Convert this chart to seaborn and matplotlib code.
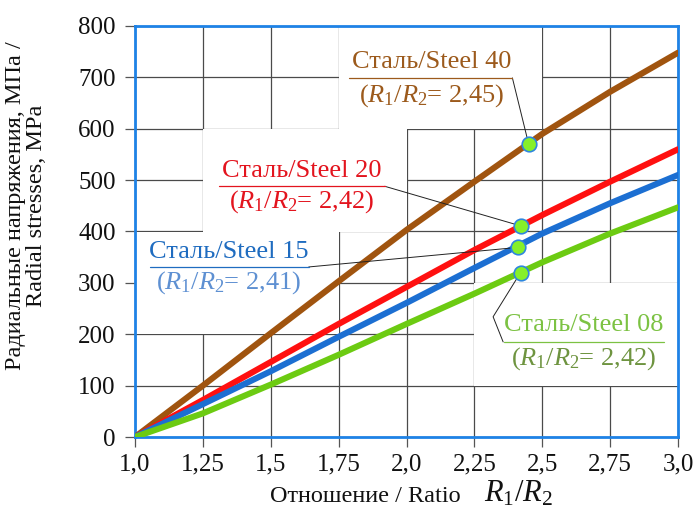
import numpy as np
import pandas as pd
import matplotlib
matplotlib.use("Agg")
import matplotlib.pyplot as plt
from matplotlib.patches import Rectangle
import seaborn as sns

# Ratio R1/R2 and radial stresses (MPa) for each steel grade
ratio = [1.0, 1.25, 1.5, 1.75, 2.0, 2.25, 2.5, 2.75, 3.0]
steel_40 = [0, 100, 202, 303, 403, 497, 590, 672, 748]
steel_20 = [0, 72, 146, 220, 292, 364, 432, 497, 560]
steel_15 = [0, 64, 128, 195, 261, 329, 396, 455, 510]
steel_08 = [0, 46, 102, 160, 220, 279, 340, 396, 447]

grades = ["Сталь/Steel 40", "Сталь/Steel 20", "Сталь/Steel 15", "Сталь/Steel 08"]
series = [steel_40, steel_20, steel_15, steel_08]
line_colors = ["#A0540F", "#FF1010", "#1C6FD2", "#6CCB12"]

# Marked points: ratio stated in each label and stress on the curve
mark_ratio = [2.45, 2.42, 2.41, 2.42]
mark_ratio_text = ["2,45", "2,42", "2,41", "2,42"]
mark_stress = [570, 411, 369, 320]

x_ticks = [1.0, 1.25, 1.5, 1.75, 2.0, 2.25, 2.5, 2.75, 3.0]
x_tick_labels = ["1,0", "1,25", "1,5", "1,75", "2,0", "2,25", "2,5", "2,75", "3,0"]
y_ticks = [0, 100, 200, 300, 400, 500, 600, 700, 800]

df = pd.DataFrame({
    "ratio": np.tile(ratio, len(grades)),
    "stress": np.concatenate(series),
    "grade": np.repeat(grades, len(ratio)),
})

sns.set_theme(style="white")
plt.rcParams["font.family"] = ["Liberation Serif", "DejaVu Serif"]
plt.rcParams["mathtext.fontset"] = "custom"
plt.rcParams["mathtext.rm"] = "Liberation Serif"
plt.rcParams["mathtext.it"] = "Liberation Serif:italic"

fig = plt.figure(figsize=(6.97, 5.13), dpi=100)
ax = fig.add_axes([135 / 697, 1 - 437 / 513, 543 / 697, 411 / 513])

sns.lineplot(data=df, x="ratio", y="stress", hue="grade", hue_order=grades,
             palette=line_colors, linewidth=4.4, legend=False, ax=ax,
             zorder=4, solid_capstyle="round", solid_joinstyle="round")

ax.set_xlim(1.0, 3.0)
ax.set_ylim(0, 800)
ax.set_xticks(x_ticks)
ax.set_xticklabels(x_tick_labels)
ax.set_yticks(y_ticks)
ax.grid(True, color="#4A4A4A", linewidth=0.9)
ax.set_axisbelow(True)
ax.tick_params(axis="both", labelsize=18, labelcolor="#111111", direction="out",
               length=7, width=0.9, color="#555555",
               bottom=True, left=True)
ax.tick_params(axis="y", pad=7)
ax.tick_params(axis="x", pad=5)
for side in ["left", "right", "top", "bottom"]:
    ax.spines[side].set_visible(True)
    ax.spines[side].set_color("#1E82E6")
    ax.spines[side].set_linewidth(2.0)
ax.set_xlabel("")
ax.set_ylabel("")

# White label panels that cover the grid behind the annotations
panels = [(1.75, 600, 0.75, 200), (1.25, 400, 0.75, 200),
          (1.0, 200, 0.75, 200), (2.25, 100, 0.75, 200)]
for (px, py, pw, ph) in panels:
    ax.add_patch(Rectangle((px, py), pw, ph, facecolor="white",
                           edgecolor="none", zorder=2))

# Annotation layout: title centre, underline span, ratio line, leader path
ann = [
    dict(tx=2.094, ty=730, u0=1.79, u1=2.39, uy=699, ry=664,
         c1="#9C5A1C", c2="#9C5A1C", lead=[(2.39, 699)]),
    dict(tx=1.615, ty=518, u0=1.31, u1=1.92, uy=488, ry=458,
         c1="#E3141E", c2="#E3141E", lead=[(1.92, 488)]),
    dict(tx=1.345, ty=360, u0=1.055, u1=1.64, uy=331, ry=300,
         c1="#1F6CC0", c2="#5E90D2", lead=[(1.64, 331)]),
    dict(tx=2.652, ty=218, u0=2.36, u1=2.95, uy=185, ry=153,
         c1="#7CC243", c2="#6E9440", lead=[(2.356, 185), (2.319, 234)]),
]

for i, a in enumerate(ann):
    ax.text(a["tx"], a["ty"], grades[i], ha="center", va="center",
            fontsize=19, color=a["c1"], zorder=6)
    ax.text(a["tx"], a["ry"], "($R_1/R_2$= " + mark_ratio_text[i] + ")",
            ha="center", va="center", fontsize=19, color=a["c2"], zorder=6)
    ax.plot([a["u0"], a["u1"]], [a["uy"], a["uy"]], color=a["c1"],
            linewidth=0.9, zorder=6)
    path = a["lead"] + [(mark_ratio[i], mark_stress[i])]
    ax.plot([p[0] for p in path], [p[1] for p in path], color="#222222",
            linewidth=0.7, zorder=5)

sns.scatterplot(x=mark_ratio, y=mark_stress, ax=ax, s=110, color="#86F02A",
                edgecolor="#2E86DE", linewidth=1.2, zorder=7, legend=False)

# Axis titles
fig.text(26 / 697, 1 - 206 / 513, "Радиальные напряжения, МПа /\nRadial stresses, MPa",
         rotation=90, ha="center", va="center", fontsize=17.5,
         color="#111111", linespacing=1.05)
fig.text(365 / 697, 1 - 497 / 513, "Отношение / Ratio", ha="center",
         va="center", fontsize=17.5, color="#111111")
fig.text(518 / 697, 1 - 494 / 513, "$R_1/R_2$", ha="center", va="center",
         fontsize=22, color="#111111")

fig.savefig("out.png", dpi=100)
